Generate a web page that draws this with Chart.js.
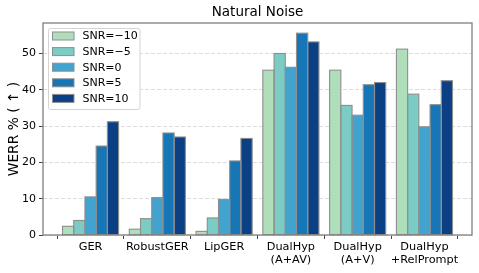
<!DOCTYPE html>
<html><head><meta charset="utf-8">
<script src="https://cdn.jsdelivr.net/npm/chart.js@4.4.0/dist/chart.umd.min.js"></script>
<style>html,body{margin:0;padding:0;background:#fff}#wrap{width:479px;height:273px}</style>
</head><body><div id="wrap"><canvas id="c" width="479" height="273"></canvas></div>
<script>
const categories = ['GER', 'RobustGER', 'LipGER', ['DualHyp', '(A+AV)'], ['DualHyp', '(A+V)'], ['DualHyp', '+RelPrompt']];
const seriesNames = ['SNR=\u221210', 'SNR=\u22125', 'SNR=0', 'SNR=5', 'SNR=10'];
const snrM10 = [2.4, 1.6, 1.0, 45.4, 45.4, 51.2];
const snrM5  = [4.0, 4.5, 4.7, 50.0, 35.7, 38.8];
const snr0   = [10.5, 10.3, 9.8, 46.2, 33.0, 29.8];
const snr5   = [24.5, 28.1, 20.4, 55.6, 41.4, 35.9];
const snr10  = [31.2, 27.0, 26.6, 53.2, 42.0, 42.5];
const yTicks = [0, 10, 20, 30, 40, 50];
const titleText = 'Natural Noise';
const yTitle = 'WERR % ( \u2191 )';

const colors = ['#afdfba', '#7bccc4', '#43a3cf', '#1776b5', '#0b4084'];
const series = [snrM10, snrM5, snr0, snr5, snr10];
const FONT = 'DejaVu Sans';

const datasets = series.map((vals, k) => ({
  label: seriesNames[k],
  data: vals.map((v, i) => ({x: i, y: v})),
  backgroundColor: colors[k],
  borderWidth: 0,
  inflateAmount: 0,
  barPercentage: 1.0,
  categoryPercentage: 0.84
}));

const decor = {
  id: 'decor',
  afterDatasetsDraw(chart) {
    const ctx = chart.ctx;
    ctx.save();
    ctx.strokeStyle = '#8e8e8e';
    ctx.lineWidth = 1.1;
    chart.data.datasets.forEach((ds, k) => {
      chart.getDatasetMeta(k).data.forEach(el => {
        const p = el.getProps(['x', 'y', 'base', 'width'], true);
        ctx.strokeRect(p.x - p.width / 2, p.y, p.width, p.base - p.y);
      });
    });
    ctx.restore();
  },
  afterDraw(chart) {
    const ctx = chart.ctx, a = chart.chartArea;
    ctx.save();
    ctx.strokeStyle = '#7f7f7f';
    ctx.lineWidth = 1.3;
    ctx.strokeRect(a.left, a.top, a.right - a.left, a.bottom - a.top);
    ctx.fillStyle = '#000';
    ctx.font = '13.5px "' + FONT + '"';
    ctx.textAlign = 'center';
    ctx.textBaseline = 'middle';
    ctx.fillText(titleText, (a.left + a.right) / 2, 12);
    const lx = 48.5, ly = 28.5, lw = 91.5, lh = 81;
    ctx.fillStyle = 'rgba(255,255,255,0.85)';
    ctx.strokeStyle = '#d4d4d4';
    ctx.lineWidth = 1;
    ctx.beginPath();
    if (ctx.roundRect) ctx.roundRect(lx, ly, lw, lh, 2); else ctx.rect(lx, ly, lw, lh);
    ctx.fill(); ctx.stroke();
    ctx.font = '11px "' + FONT + '"';
    ctx.textAlign = 'left';
    chart.data.datasets.forEach((ds, k) => {
      const cy = 36 + k * 15.6;
      ctx.fillStyle = ds.backgroundColor;
      ctx.fillRect(52.5, cy - 4, 21.5, 8);
      ctx.strokeStyle = '#8e8e8e';
      ctx.strokeRect(52.5, cy - 4, 21.5, 8);
      ctx.fillStyle = '#000';
      ctx.fillText(ds.label, 82.5, cy + 0.5);
    });
    ctx.restore();
  }
};

new Chart(document.getElementById('c'), {
  type: 'bar',
  data: { datasets },
  options: {
    responsive: false,
    animation: false,
    devicePixelRatio: 1,
    layout: { padding: { left: 0, right: 7, top: 23, bottom: 0 } },
    plugins: { legend: { display: false }, title: { display: false }, tooltip: { enabled: false } },
    scales: {
      x: {
        type: 'linear',
        min: -0.712, max: 5.712,
        offset: false,
        afterBuildTicks(s) { s.ticks = categories.map((c, i) => ({ value: i })); },
        afterFit(s) { s.height = 38; },
        ticks: {
          callback: (v) => categories[v],
          color: '#000',
          font: { family: FONT, size: 11.3, lineHeight: 1.15 },
          padding: 2,
          maxRotation: 0,
          autoSkip: false
        },
        grid: { drawOnChartArea: false, tickLength: 4, tickColor: '#444', tickWidth: 1 },
        border: { display: false }
      },
      y: {
        min: 0, max: 58.4,
        afterBuildTicks(s) { s.ticks = yTicks.map(v => ({ value: v })); },
        afterFit(s) { s.width = 43; },
        ticks: {
          color: '#000',
          font: { family: FONT, size: 11 },
          padding: 3
        },
        grid: { color: '#d3d3d3', lineWidth: 0.8, tickLength: 4, tickColor: '#444', tickBorderDash: [], tickWidth: 1 },
        border: { display: false, dash: [4, 2] },
        title: { display: true, text: yTitle, color: '#000', font: { family: FONT, size: 13.8 }, padding: { top: 6, bottom: 0 } }
      }
    }
  },
  plugins: [decor]
});
</script></body></html>
